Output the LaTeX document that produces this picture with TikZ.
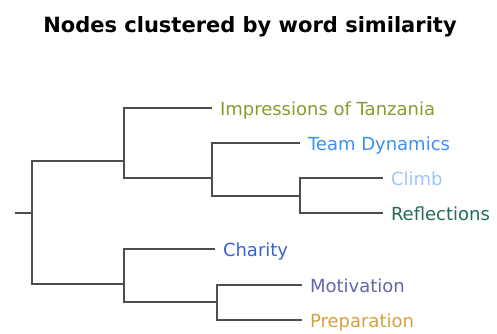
\documentclass[tikz,border=0pt]{standalone}
\usepackage{fontspec}
\setmainfont{DejaVu Sans}
\usepackage{xcolor}
\usepackage{tikz}

\definecolor{linegray}{HTML}{4D4D4D}
\definecolor{impcol}{HTML}{8A9A2E}
\definecolor{teamcol}{HTML}{3D8EF5}
\definecolor{climbcol}{HTML}{9DC6F7}
\definecolor{reflcol}{HTML}{1F6E5C}
\definecolor{charcol}{HTML}{3A60D8}
\definecolor{motcol}{HTML}{6565A8}
\definecolor{prepcol}{HTML}{D6A03F}

\begin{document}
\begin{tikzpicture}[x = 1pt, y = -1pt,
        branch/.style = {draw = linegray, line width = 2.5pt},
        leaf/.style = {anchor = west, inner xsep = 8pt, inner ysep = 0pt, outer sep = 0pt,
                       font = \fontsize{18}{20}\selectfont, text height = 15pt, text depth = 0pt}]
        \useasboundingbox (0,0) rectangle (497,333);
        \node [font = \fontsize{21}{24}\selectfont\bfseries, anchor = base] (T) at (250,32) {Nodes clustered by word similarity};

        % junctions of the tree
        \coordinate (R) at (15,213);
        \coordinate (J0) at (32,213);
        \coordinate (J1) at (124,161);
        \coordinate (J2) at (124,284);
        \coordinate (J3) at (212,178);
        \coordinate (J4) at (300,196);
        \coordinate (J5) at (217,302);

        % leaves
        \node [leaf, text = impcol] (Imp) at (212,108) {Impressions of Tanzania};
        \node [leaf, text = teamcol] (Team) at (300,143) {Team Dynamics};
        \node [leaf, text = climbcol] (Climb) at (383,178) {Climb};
        \node [leaf, text = reflcol] (Refl) at (383,213) {Reflections};
        \node [leaf, text = charcol] (Char) at (215,249) {Charity};
        \node [leaf, text = motcol] (Mot) at (302,285) {Motivation};
        \node [leaf, text = prepcol] (Prep) at (302,320) {Preparation};

        \path[branch]
            (R) -- (J0)
            (J0) |- (J1)
            (J0) |- (J2)
            (J1) |- (Imp.west)
            (J1) |- (J3)
            (J3) |- (Team.west)
            (J3) |- (J4)
            (J4) |- (Climb.west)
            (J4) |- (Refl.west)
            (J2) |- (Char.west)
            (J2) |- (J5)
            (J5) |- (Mot.west)
            (J5) |- (Prep.west);
    \end{tikzpicture}
\end{document}
